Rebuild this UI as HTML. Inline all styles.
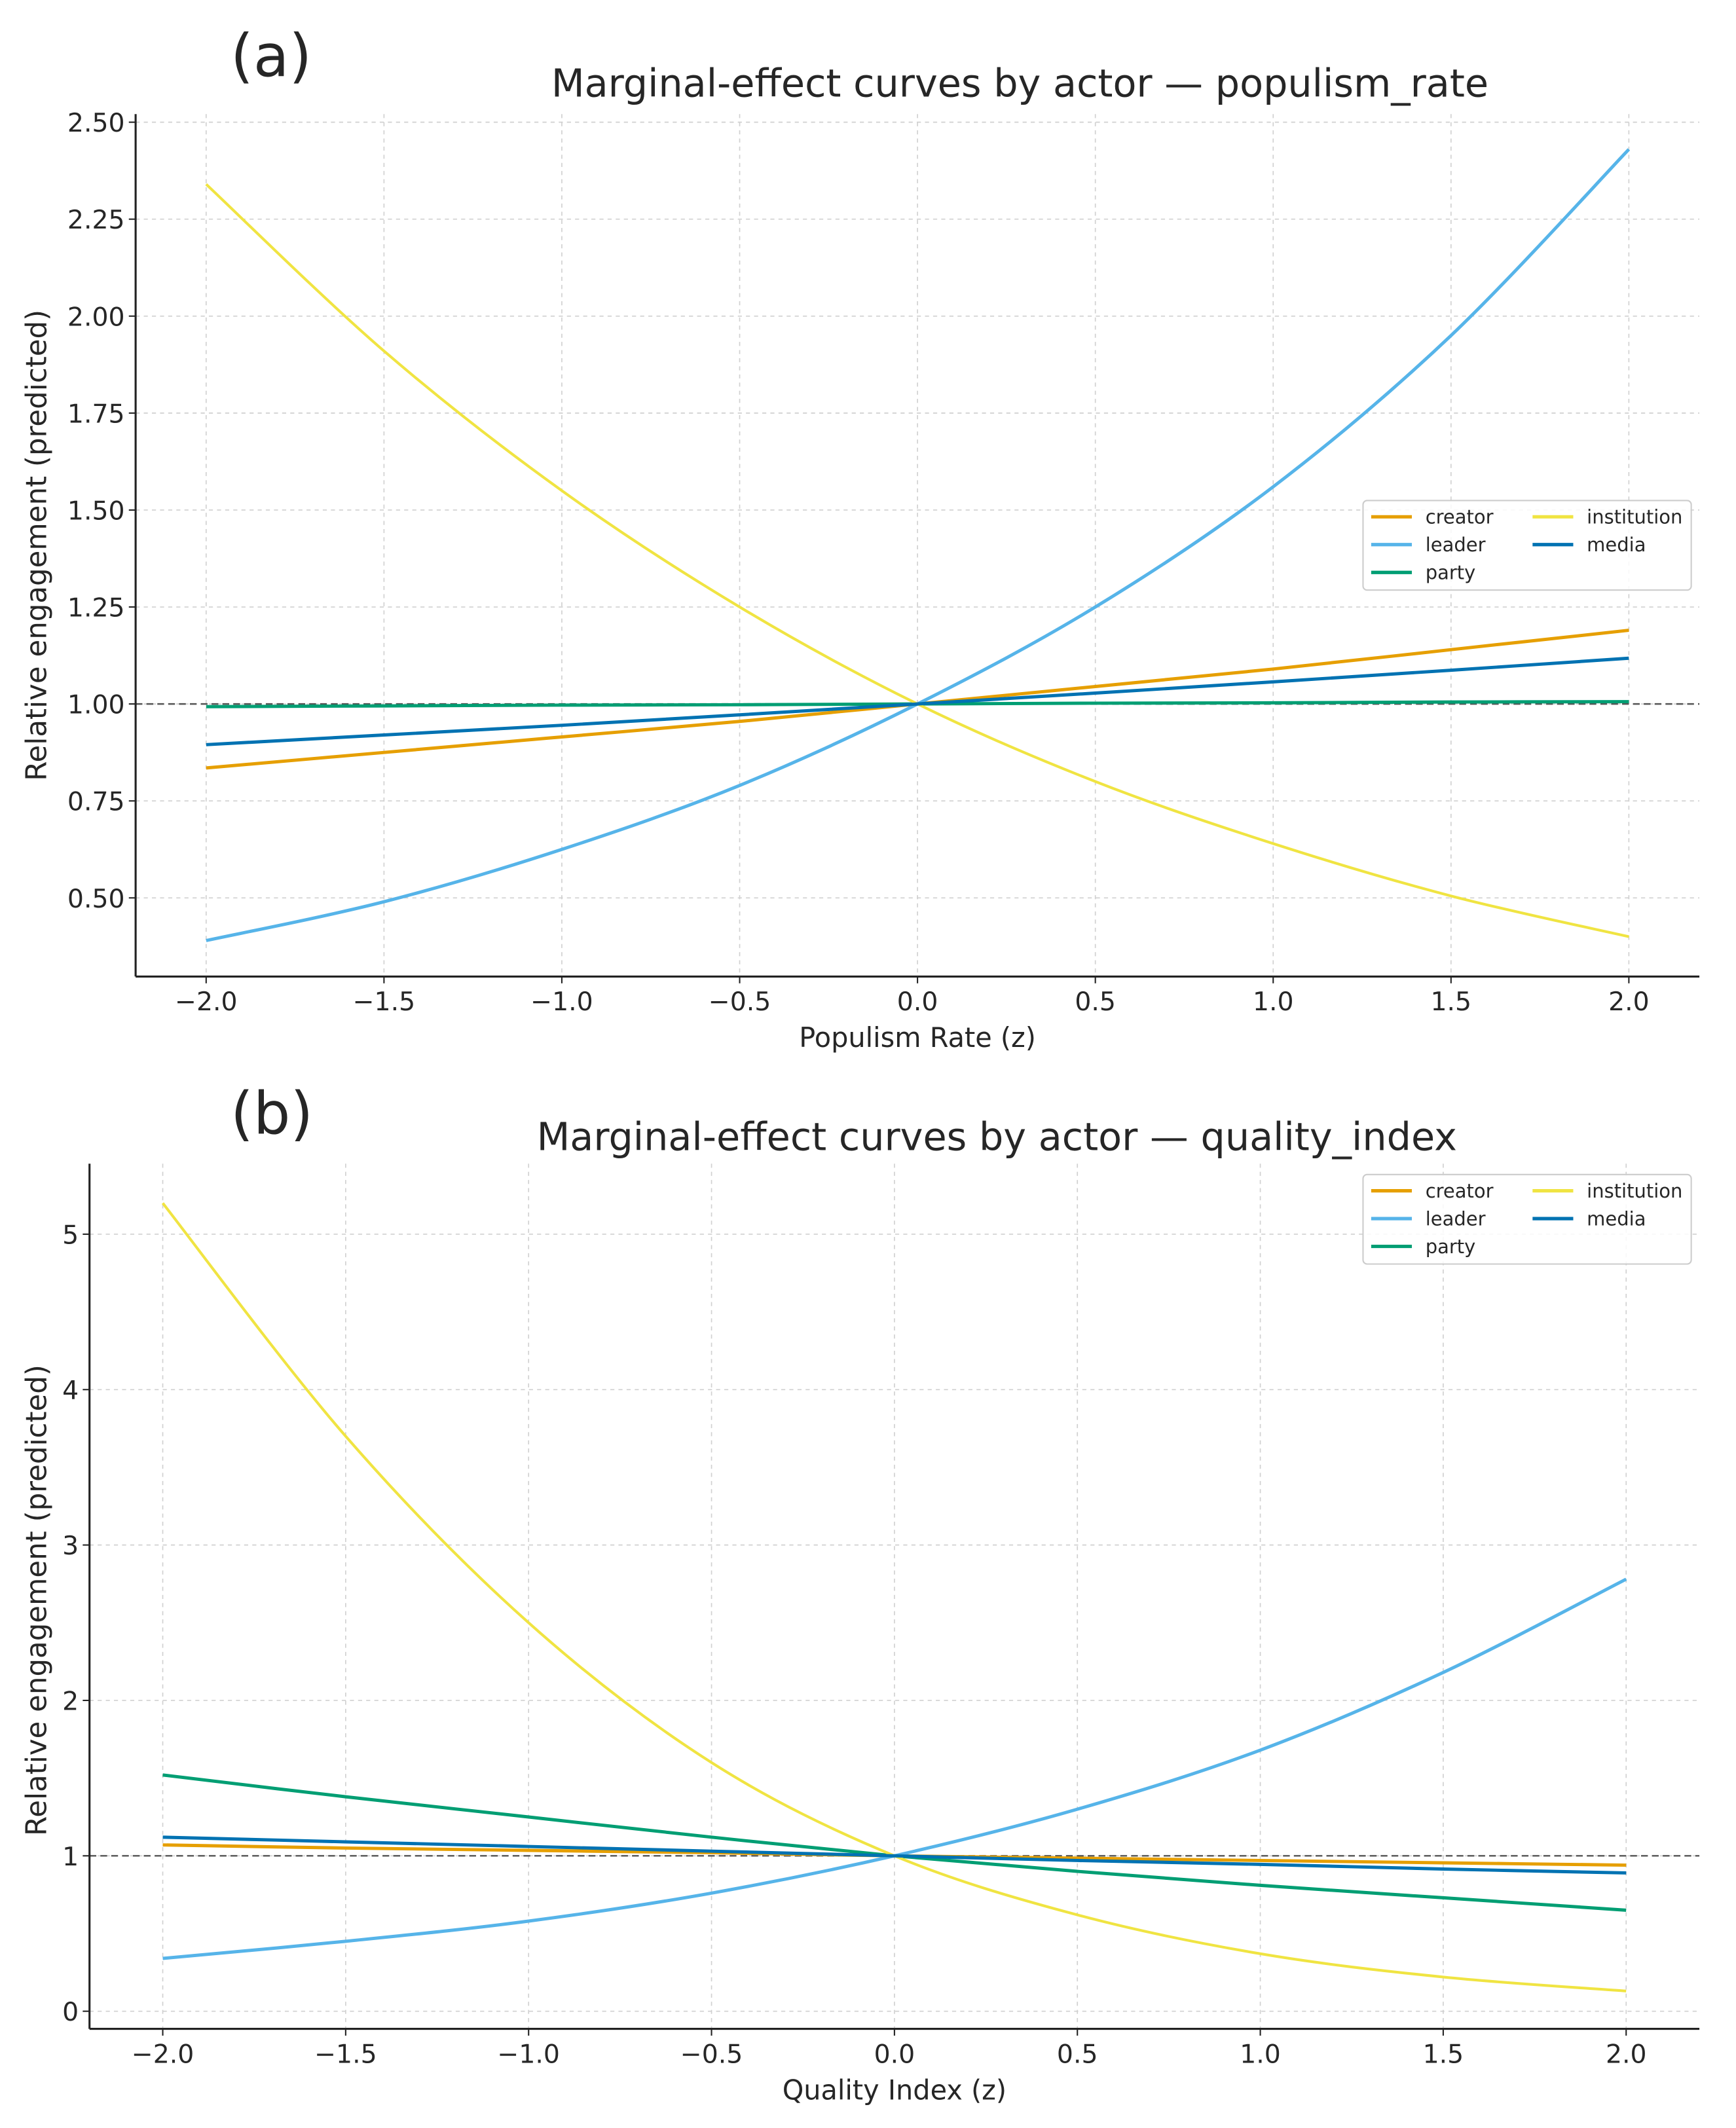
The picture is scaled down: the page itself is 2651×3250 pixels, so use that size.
<!DOCTYPE html>
<html><head><meta charset="utf-8"><style>
html,body{margin:0;padding:0;background:#fff;}
svg{display:block;}
text{font-family:"DejaVu Sans","Liberation Sans",sans-serif;fill:#262626;}
</style></head><body>
<svg id="fig" width="2651" height="3250" viewBox="0 0 1280 1569" xmlns="http://www.w3.org/2000/svg"></svg>
<script>
const xVals = [-2,-1.5,-1,-0.5,0,0.5,1,1.5,2];
const xTicks = [-2,-1.5,-1,-0.5,0,0.5,1,1.5,2];
const xTickLabels = ["\u22122.0","\u22121.5","\u22121.0","\u22120.5","0.0","0.5","1.0","1.5","2.0"];
const seriesNames = ["creator","leader","party","institution","media"];
const seriesColors = {creator:"#E69F00",leader:"#56B4E9",party:"#009E73",institution:"#F0E442",media:"#0072B2"};
// panel a
const aCreator = [0.835,0.875,0.915,0.955,1,1.045,1.09,1.14,1.19];
const aLeader = [0.39,0.49,0.625,0.79,1,1.25,1.56,1.95,2.43];
const aParty = [0.993,0.995,0.997,0.998,1,1.002,1.003,1.005,1.006];
const aInstitution = [2.34,1.91,1.55,1.25,1,0.80,0.64,0.505,0.40];
const aMedia = [0.895,0.92,0.945,0.972,1,1.028,1.057,1.087,1.118];
const aYTicks = [0.5,0.75,1.0,1.25,1.5,1.75,2.0,2.25,2.5];
const aYTickLabels = ["0.50","0.75","1.00","1.25","1.50","1.75","2.00","2.25","2.50"];
// panel b
const bCreator = [1.07,1.05,1.035,1.02,1,0.985,0.97,0.955,0.94];
const bLeader = [0.34,0.45,0.58,0.76,1,1.3,1.68,2.18,2.78];
const bParty = [1.52,1.38,1.25,1.12,1,0.90,0.81,0.73,0.65];
const bInstitution = [5.2,3.7,2.5,1.6,1,0.62,0.37,0.22,0.13];
const bMedia = [1.12,1.09,1.06,1.03,1,0.97,0.945,0.915,0.89];
const bYTicks = [0,1,2,3,4,5];
const bYTickLabels = ["0","1","2","3","4","5"];

const NS="http://www.w3.org/2000/svg";
const svg=document.getElementById('fig');
function mk(tag,attrs,parent,txt){const e=document.createElementNS(NS,tag);for(const k in attrs)e.setAttribute(k,attrs[k]);if(txt!==undefined)e.textContent=txt;(parent||svg).appendChild(e);return e;}

function smoothPath(pts){
  let d="M"+pts[0][0].toFixed(2)+","+pts[0][1].toFixed(2);
  for(let i=0;i<pts.length-1;i++){
    const p0=pts[Math.max(i-1,0)],p1=pts[i],p2=pts[i+1],p3=pts[Math.min(i+2,pts.length-1)];
    const c1=[p1[0]+(p2[0]-p0[0])/6,p1[1]+(p2[1]-p0[1])/6];
    const c2=[p2[0]-(p3[0]-p1[0])/6,p2[1]-(p3[1]-p1[1])/6];
    d+=" C"+c1[0].toFixed(2)+","+c1[1].toFixed(2)+" "+c2[0].toFixed(2)+","+c2[1].toFixed(2)+" "+p2[0].toFixed(2)+","+p2[1].toFixed(2);
  }
  return d;
}

function panel(cfg){
  const g=mk('g',{});
  
  
  const X=v=>cfg.x0+(v-(-2))/4*(cfg.x1-cfg.x0);
  const Y=v=>cfg.yb0+(v-cfg.v0)/(cfg.v1-cfg.v0)*(cfg.yb1-cfg.yb0);
  xTicks.forEach((t,i)=>{
    const l=mk('line',{x1:X(t),x2:X(t),y1:cfg.top,y2:cfg.bottom,stroke:"#d0d0d0","stroke-width":0.8,"stroke-dasharray":"3,3"},g);
    
    
  });
  cfg.yTicks.forEach((t,i)=>{
    const l=mk('line',{x1:cfg.left,x2:cfg.right,y1:Y(t),y2:Y(t),stroke:"#d0d0d0","stroke-width":0.8,"stroke-dasharray":"3,3"},g);
    
    
  });
  const ref=mk('line',{x1:cfg.left,x2:cfg.right,y1:Y(1),y2:Y(1),stroke:"#555","stroke-width":1.2,"stroke-dasharray":"5,3"},g);
  
  
  cfg.series.forEach((vals,si)=>{
    const nm=seriesNames[si];
    const pts=xVals.map((x,i)=>[X(x),Y(vals[i])]);
    const p=mk('path',{d:smoothPath(pts),fill:"none",stroke:seriesColors[nm],"stroke-width":nm==="institution"?2:2.4},g);
    
    
  });
  const sl=mk('line',{x1:cfg.left,x2:cfg.left,y1:cfg.top,y2:cfg.bottom,stroke:"#222","stroke-width":1.5},g);
  
  
  const sb=mk('line',{x1:cfg.left,x2:cfg.right,y1:cfg.bottom,y2:cfg.bottom,stroke:"#222","stroke-width":1.5},g);
  
  
  xTicks.forEach((t,i)=>{
    mk('line',{x1:X(t),x2:X(t),y1:cfg.bottom,y2:cfg.bottom+5,stroke:"#222","stroke-width":1},g);
    const tx=mk('text',{x:X(t),y:cfg.bottom+25,"text-anchor":"middle","font-size":19},g,xTickLabels[i]);
    
    
  });
  cfg.yTicks.forEach((t,i)=>{
    mk('line',{x1:cfg.left-5,x2:cfg.left,y1:Y(t),y2:Y(t),stroke:"#222","stroke-width":1},g);
    const tx=mk('text',{x:cfg.left-8,y:Y(t)+7,"text-anchor":"end","font-size":19},g,cfg.yTickLabels[i]);
    
    
  });
  const xl=mk('text',{x:X(0),y:cfg.bottom+52,"text-anchor":"middle","font-size":20},g,cfg.xlabel);
  
  
  const yl=mk('text',{x:0,y:0,"text-anchor":"middle","font-size":21,transform:`translate(34,${cfg.ylabelY}) rotate(-90)`},g,"Relative engagement (predicted)");
  
  
  const ti=mk('text',{x:cfg.titleX,y:cfg.titleY,"text-anchor":"middle","font-size":28.4,fill:"#333"},g,cfg.title);
  
  
  const pl=mk('text',{x:170,y:cfg.labelY,"font-size":43,fill:"#111"},g,cfg.plabel);
  
  
  const lg=mk('g',{},g);
  
  
  mk('rect',{x:1005,y:cfg.legY,width:242,height:66,rx:3,fill:"#fff","fill-opacity":0.85,stroke:"#ccc","stroke-width":1},lg);
  const pos=[[0,0],[0,1],[0,2],[1,0],[1,1]];
  seriesNames.forEach((nm,i)=>{
    const cx=1011+pos[i][0]*119, cy=cfg.legY+12+pos[i][1]*20.5;
    const e=mk('g',{},lg);
    
    
    mk('line',{x1:cx,x2:cx+30,y1:cy,y2:cy,stroke:seriesColors[nm],"stroke-width":2.5},e);
    mk('text',{x:cx+40,y:cy+5,"font-size":14,fill:"#444"},e,nm);
  });
}

panel({name:'panel-a-populism-rate',x0:152,x1:1201,v0:0.5,v1:2.5,yb0:662,yb1:90,left:100,right:1253,top:84,bottom:720,
  yTicks:aYTicks,yTickLabels:aYTickLabels,series:[aCreator,aLeader,aParty,aInstitution,aMedia],
  xlabel:"Populism Rate (z)",ylabelY:402,title:"Marginal-effect curves by actor \u2014 populism_rate",titleX:752,titleY:71,
  plabel:"(a)",labelY:56,legY:369});
panel({name:'panel-b-quality-index',x0:120,x1:1199,v0:0,v1:5,yb0:1483,yb1:910,left:66,right:1253,top:858,bottom:1496,
  yTicks:bYTicks,yTickLabels:bYTickLabels,series:[bCreator,bLeader,bParty,bInstitution,bMedia],
  xlabel:"Quality Index (z)",ylabelY:1180,title:"Marginal-effect curves by actor \u2014 quality_index",titleX:735,titleY:848,
  plabel:"(b)",labelY:836,legY:866});
</script>
</body></html>
